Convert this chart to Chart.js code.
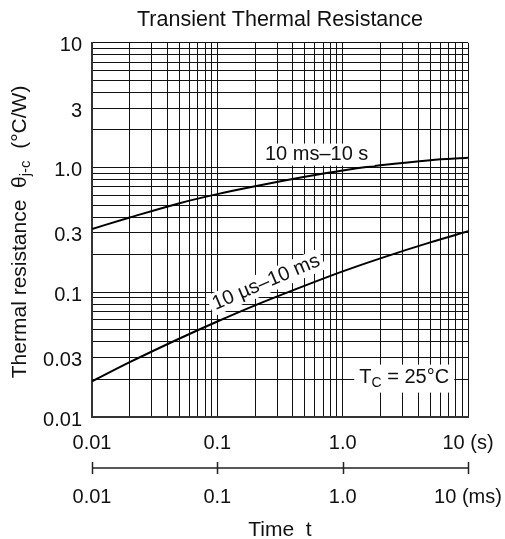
<!DOCTYPE html>
<html>
<head>
<meta charset="utf-8">
<script src="https://cdn.jsdelivr.net/npm/chart.js@4/dist/chart.umd.min.js"></script>
<style>
  html, body { margin: 0; padding: 0; background: #fff; }
  #wrap { width: 505px; height: 539px; }
</style>
</head>
<body>
<div id="wrap"><canvas id="chart"></canvas></div>
<script>
// data
var time = [0.01, 0.02, 0.05, 0.1, 0.2, 0.5, 1, 2, 5, 10];
var longPulse = [0.322, 0.397, 0.518, 0.612, 0.707, 0.842, 0.948, 1.041, 1.146, 1.196];       // 10 ms-10 s (time in s)
var shortPulse = [0.0193, 0.0275, 0.0426, 0.0583, 0.0785, 0.113, 0.147, 0.187, 0.251, 0.308]; // 10 us-10 ms (time in ms)

var xTickVals = [0.01, 0.1, 1, 10];
var sLabels = ["0.01", "0.1", "1.0", "10 (s)"];
var msLabels = ["0.01", "0.1", "1.0", "10 (ms)"];
var yTickVals = [0.01, 0.03, 0.1, 0.3, 1, 3, 10];
var yLabels = ["0.01", "0.03", "0.1", "0.3", "1.0", "3", "10"];

var FONT = "'Liberation Sans', Arial, Helvetica, sans-serif";
Chart.defaults.font.family = FONT;
Chart.defaults.color = "#111";

// 1..9 lines of each decade
function logGrid(lo, hi) {
  var v = [];
  for (var d = lo; d <= hi * 1.0001; d *= 10) {
    for (var k = 1; k < 10; k++) {
      var x = +(k * d).toPrecision(3);
      if (x <= hi * 1.0001) v.push(x);
    }
  }
  return v;
}
var gridVals = logGrid(0.01, 10);

function pick(vals, labels) {
  return function (value) {
    for (var i = 0; i < vals.length; i++) {
      if (Math.abs(vals[i] - value) / vals[i] < 1e-6) return labels[i];
    }
    return "";
  };
}

function whiteBox(ctx, cx, cy, angle, w, h) {
  ctx.save();
  ctx.translate(cx, cy);
  ctx.rotate(angle);
  ctx.fillStyle = "#fff";
  ctx.fillRect(-w / 2, -h / 2, w, h);
  ctx.restore();
}

var labelsPlugin = {
  id: "labels",
  afterDatasetsDraw: function (chart) {
    var ctx = chart.ctx;
    var x = chart.scales.x, y = chart.scales.y, x2 = chart.scales.x2;
    ctx.save();
    ctx.fillStyle = "#111";
    ctx.textBaseline = "middle";

    // 10 ms-10 s
    var px = x.getPixelForValue(0.62), py = y.getPixelForValue(1.27);
    whiteBox(ctx, px, py, 0, 116, 22);
    ctx.fillStyle = "#111";
    ctx.font = "20px " + FONT;
    ctx.textAlign = "center";
    ctx.fillText("10 ms\u201310 s", px, py);

    // 10 us-10 ms, along the lower curve
    px = x.getPixelForValue(0.245); py = y.getPixelForValue(0.12);
    var ang = -23 * Math.PI / 180;
    whiteBox(ctx, px, py, ang, 122, 22);
    ctx.save();
    ctx.translate(px, py);
    ctx.rotate(ang);
    ctx.fillStyle = "#111";
    ctx.fillText("10 \u00b5s\u201310 ms", 0, 0);
    ctx.restore();

    // TC = 25 C
    px = x.getPixelForValue(3.1); py = y.getPixelForValue(0.0207);
    whiteBox(ctx, px, py + 1, 0, 100, 28);
    ctx.fillStyle = "#111";
    ctx.textAlign = "left";
    ctx.font = "20px " + FONT;
    var w1 = ctx.measureText("T").width;
    ctx.font = "14px " + FONT;
    var w2 = ctx.measureText("C").width;
    ctx.font = "20px " + FONT;
    var w3 = ctx.measureText(" = 25\u00b0C").width;
    var sx = px - (w1 + w2 + w3) / 2;
    ctx.fillText("T", sx, py);
    ctx.font = "14px " + FONT;
    ctx.fillText("C", sx + w1, py + 6);
    ctx.font = "20px " + FONT;
    ctx.fillText(" = 25\u00b0C", sx + w1 + w2, py);

    // y axis title with subscript
    var parts = [
      { t: "Thermal resistance  \u03b8", s: 21, dy: 0 },
      { t: "j-c", s: 15, dy: 6 },
      { t: "  (\u00b0C/W)", s: 21, dy: 0 }
    ];
    var total = 0;
    parts.forEach(function (p) { ctx.font = p.s + "px " + FONT; p.w = ctx.measureText(p.t).width; total += p.w; });
    ctx.save();
    ctx.translate(20, (chart.chartArea.top + chart.chartArea.bottom) / 2 + 2);
    ctx.rotate(-Math.PI / 2);
    var cx = -total / 2;
    parts.forEach(function (p) {
      ctx.font = p.s + "px " + FONT;
      ctx.fillText(p.t, cx, p.dy);
      cx += p.w;
    });
    ctx.restore();

    // second time axis (ms)
    var ly = x2.top + 13;
    ctx.strokeStyle = "#222";
    ctx.lineWidth = 1.5;
    ctx.beginPath();
    ctx.moveTo(x2.getPixelForValue(0.01), ly);
    ctx.lineTo(x2.getPixelForValue(10), ly);
    xTickVals.forEach(function (v) {
      var tx = Math.round(x2.getPixelForValue(v)) + 0.5;
      ctx.moveTo(tx, ly - 6);
      ctx.lineTo(tx, ly + 6);
    });
    ctx.stroke();
    ctx.restore();
  }
};

new Chart(document.getElementById("chart"), {
  type: "line",
  data: {
    datasets: [
      {
        label: "10 ms\u201310 s",
        data: time.map(function (t, i) { return { x: t, y: longPulse[i] }; }),
        borderColor: "#000",
        borderWidth: 2,
        pointRadius: 0,
        cubicInterpolationMode: "monotone"
      },
      {
        label: "10 \u00b5s\u201310 ms",
        data: time.map(function (t, i) { return { x: t, y: shortPulse[i] }; }),
        borderColor: "#000",
        borderWidth: 2,
        pointRadius: 0,
        cubicInterpolationMode: "monotone"
      }
    ]
  },
  options: {
    responsive: true,
    maintainAspectRatio: false,
    animation: false,
    devicePixelRatio: 1,
    layout: { padding: 0 },
    plugins: {
      legend: { display: false },
      tooltip: { enabled: false },
      title: {
        display: true,
        fullSize: false,
        text: "Transient Thermal Resistance",
        color: "#111",
        font: { size: 21.5, weight: "normal", lineHeight: 1.2 },
        padding: { top: 7, bottom: 10 }
      }
    },
    scales: {
      x: {
        type: "logarithmic",
        position: "bottom",
        weight: 0,
        min: 0.01,
        max: 10,
        afterBuildTicks: function (s) { s.ticks = gridVals.map(function (v) { return { value: v }; }); },
        afterFit: function (s) { s.height = 38; s.paddingRight = 37; },
        grid: { color: "#111", lineWidth: 1, drawTicks: false },
        border: { display: true, color: "#333", width: 2 },
        ticks: {
          autoSkip: false, maxRotation: 0, minRotation: 0, padding: 14,
          font: { size: 20 }, color: "#111",
          callback: pick(xTickVals, sLabels)
        }
      },
      x2: {
        type: "logarithmic",
        position: "bottom",
        weight: 1,
        min: 0.01,
        max: 10,
        afterBuildTicks: function (s) { s.ticks = xTickVals.map(function (v) { return { value: v }; }); },
        afterFit: function (s) { s.height = 84; s.paddingRight = 37; },
        grid: { display: false, drawTicks: false },
        border: { display: false },
        ticks: {
          autoSkip: false, maxRotation: 0, minRotation: 0, padding: 30,
          font: { size: 20 }, color: "#111",
          callback: pick(xTickVals, msLabels)
        },
        title: {
          display: true,
          text: "Time  t",
          color: "#111",
          font: { size: 21, lineHeight: 0.8 },
          padding: { top: 0, bottom: 0 }
        }
      },
      y: {
        type: "logarithmic",
        min: 0.01,
        max: 10,
        afterBuildTicks: function (s) { s.ticks = gridVals.map(function (v) { return { value: v }; }); },
        afterFit: function (s) { s.width = 92; },
        grid: { color: "#111", lineWidth: 1, drawTicks: false },
        border: { display: true, color: "#333", width: 2 },
        ticks: {
          autoSkip: false, padding: 10, labelOffset: 3,
          font: { size: 20 }, color: "#111",
          callback: pick(yTickVals, yLabels)
        }
      }
    }
  },
  plugins: [labelsPlugin]
});
</script>
</body>
</html>
